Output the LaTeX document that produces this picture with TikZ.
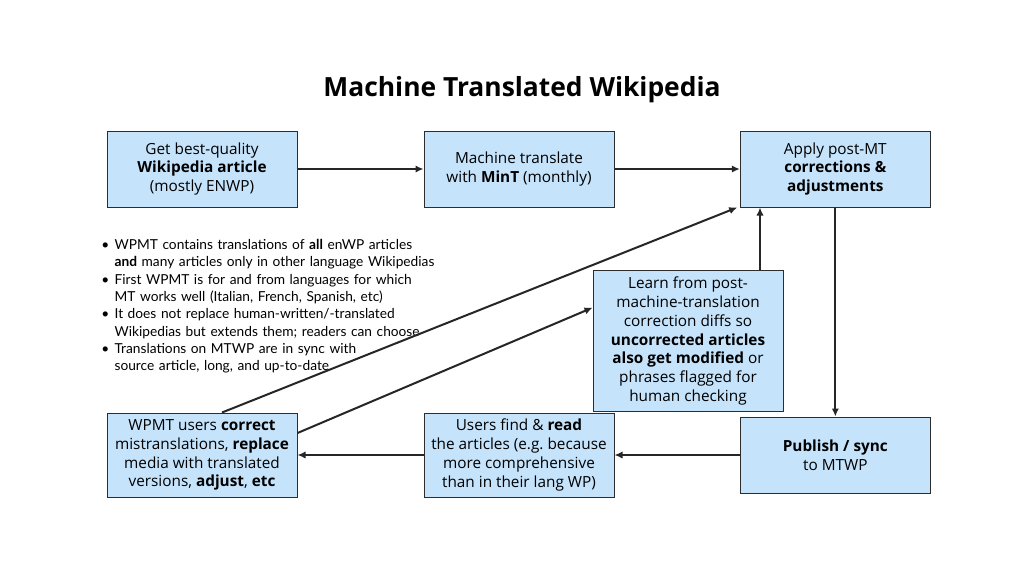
\documentclass[tikz,border=0pt]{standalone}
\usepackage{fontspec}
\setmainfont{Open Sans}
\newfontfamily\listfont{Lato}
\usepackage{enumitem}
\usetikzlibrary{positioning,calc,arrows.meta}
\definecolor{boxblue}{RGB}{197,227,250}
\definecolor{boxline}{RGB}{45,45,45}

\tikzset{
  stepbox/.style={rectangle, draw=boxline, line width=0.75pt, fill=boxblue,
    minimum width=142.5pt, minimum height=57pt, align=center, inner sep=1pt,
    font=\fontsize{11.5}{14.1}\selectfont},
  flow/.style={-{Latex[length=6pt,width=5.5pt]}, line width=1.5pt, draw=black!85},
}

\begin{document}
\begin{tikzpicture}[x=0.75pt, y=-0.75pt]
\useasboundingbox (0,0) rectangle (1024,576);
\fill[white] (0,0) rectangle (1024,576);

% Titolo
\node[font=\fontsize{19.8}{23}\selectfont\bfseries] (title) at (522,90) {Machine Translated Wikipedia};

% Riga in alto
\node[stepbox] (source) at (202,169) {Get best-quality\\\textbf{Wikipedia article}\\(mostly ENWP)};
\node[stepbox, right=94.5pt of source] (mint) {Machine translate\\with \textbf{MinT} (monthly)};
\node[stepbox, right=94pt of mint] (postmt) {Apply post-MT\\\textbf{corrections \&}\\\textbf{adjustments}};

% Riga in basso
\node[stepbox, below=156.75pt of postmt] (publish) {\textbf{Publish / sync}\\to MTWP};
\node[stepbox, minimum height=63pt, left=94pt of publish] (read) {Users find \& \textbf{read}\\the articles (e.g.\ because\\more comprehensive\\than in their lang WP)};
\node[stepbox, minimum height=63pt, left=94.5pt of read] (fix) {WPMT users \textbf{correct}\\mistranslations, \textbf{replace}\\media with translated\\versions, \textbf{adjust}, \textbf{etc}};

% Apprendimento
\node[stepbox, minimum height=105.75pt] (learn) at (688,341) {Learn from post-\\machine-translation\\correction diffs so\\\textbf{uncorrected articles}\\\textbf{also get modified} or\\phrases flagged for\\human checking};

% Note
\node[anchor=north west, inner sep=0pt, text width=290pt, font=\listfont\fontsize{10.3}{13}\selectfont] (notes) at (103,232) {%
  \begin{itemize}[leftmargin=8.5pt, labelsep=4pt, itemsep=0pt, topsep=0pt, parsep=0pt, partopsep=0pt, label=\textbullet]
  \item WPMT contains translations of \textbf{all} enWP articles\\\textbf{and} many articles only in other language Wikipedias
  \item First WPMT is for and from languages for which\\MT works well (Italian, French, Spanish, etc)
  \item It does not replace human-written/-translated\\Wikipedias but extends them; readers can choose
  \item Translations on MTWP are in sync with\\source article, long, and up-to-date
  \end{itemize}};

% Frecce
\draw[flow] (source) -- (mint);
\draw[flow] (mint) -- (postmt);
\draw[flow] (postmt) -- (publish);
\draw[flow] (publish) -- (read);
\draw[flow] (read) -- (fix);
\draw[flow] ([xshift=54pt]learn.north) -- ([xshift=54pt]learn.north |- postmt.south);
\draw[flow] ([xshift=15pt]fix.north) -- ([xshift=-2pt]postmt.south west);
\draw[flow] ([yshift=16.5pt]fix.east) -- ([yshift=25pt]learn.west);
\end{tikzpicture}
\end{document}
